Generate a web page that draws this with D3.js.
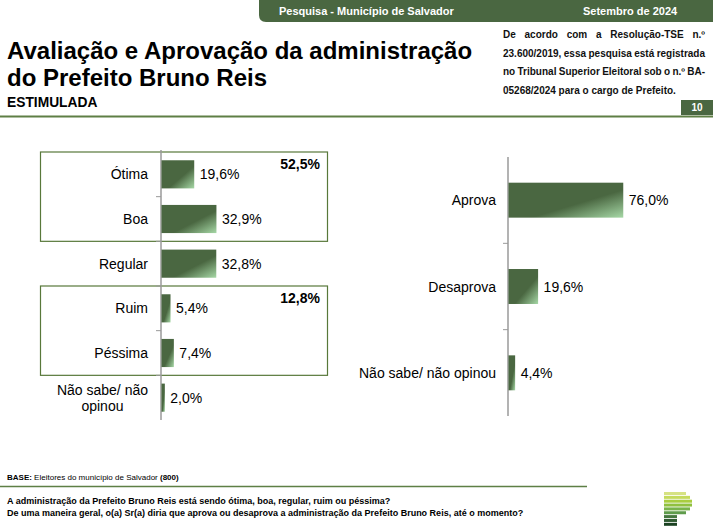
<!DOCTYPE html>
<html><head><meta charset="utf-8">
<script src="https://cdn.jsdelivr.net/npm/d3@7"></script>
<style>
html,body{margin:0;padding:0;background:#fff;}
svg{display:block;font-family:"Liberation Sans",Arial,sans-serif;}
</style></head>
<body>
<script>
// ---- data ----
const avalCategories = ["Ótima", "Boa", "Regular", "Ruim", "Péssima", "Não sabe/ não opinou"];
const avalValues = [19.6, 32.9, 32.8, 5.4, 7.4, 2.0];
const avalGroups = [{label: "52,5%", from: "Ótima", to: "Boa"}, {label: "12,8%", from: "Ruim", to: "Péssima"}];
const aprovCategories = ["Aprova", "Desaprova", "Não sabe/ não opinou"];
const aprovValues = [76.0, 19.6, 4.4];
const headerTexts = ["Pesquisa - Município de Salvador", "Setembro de 2024"];
const titleLines = ["Avaliação e Aprovação da administração", "do Prefeito Bruno Reis"];
const subtitle = "ESTIMULADA";
const noteLines = ["De acordo com a Resolução-TSE n.º", "23.600/2019, essa pesquisa está registrada", "no Tribunal Superior Eleitoral sob o n.º BA-", "05268/2024 para o cargo de Prefeito."];
const pageNumber = "10";
const questions = ["A administração da Prefeito Bruno Reis está sendo ótima, boa, regular, ruim ou péssima?",
  "De uma maneira geral, o(a) Sr(a) diria que aprova ou desaprova a administração da Prefeito Bruno Reis, até o momento?"];
const logoStripes = [22, 26, 28, 28, 26, 22, 13, 13, 13];
const logoColors = ["#d6e283", "#c5da5c", "#a9cd3f", "#90c03f", "#79b44a", "#5f9c4b", "#46773f", "#2f5a31", "#1b4222"];

const W = 713, H = 531;
const green = "#4a6741";
const svg = d3.select("body").append("svg").attr("width", W).attr("height", H);
const defs = svg.append("defs");
const grad = defs.append("linearGradient").attr("id", "barGrad")
  .attr("x1", 0).attr("y1", 0).attr("x2", 1).attr("y2", 1);
grad.append("stop").attr("offset", 0).attr("stop-color", green);
grad.append("stop").attr("offset", 0.6).attr("stop-color", green);
grad.append("stop").attr("offset", 1).attr("stop-color", "#a6d8a6");

// header band
const hx = 259, hh = 22, r = 7;
svg.append("path").attr("fill", green)
  .attr("d", `M${hx},0 H${W} V${hh} H${hx + r} Q${hx},${hh} ${hx},${hh - r} Z`);
svg.append("text").attr("x", 279).attr("y", 15).attr("fill", "#fff").attr("font-size", 11).attr("font-weight", "bold").text(headerTexts[0]);
svg.append("text").attr("x", 583).attr("y", 15).attr("fill", "#fff").attr("font-size", 11).attr("font-weight", "bold").text(headerTexts[1]);

// title
svg.selectAll("text.title").data(titleLines).join("text").attr("class", "title")
  .attr("x", 7).attr("y", (d, i) => 59 + i * 27).attr("font-size", 24).attr("font-weight", "bold").attr("fill", "#000").text(d => d);
svg.append("text").attr("x", 7).attr("y", 107).attr("font-size", 13.8).attr("font-weight", "bold").text(subtitle);

// justified note
const noteX0 = 503, noteX1 = 705;
noteLines.forEach((line, i) => {
  const t = svg.append("text").attr("x", noteX0).attr("y", 38 + i * 18.5)
    .attr("font-size", 10).attr("font-weight", "bold").attr("fill", "#111").text(line);
  if (i < noteLines.length - 1) {
    const w = t.node().getComputedTextLength();
    const n = (line.match(/ /g) || []).length;
    if (n > 0) t.attr("word-spacing", (noteX1 - noteX0 - w) / n);
  }
});

// page number + line
svg.append("rect").attr("x", 681).attr("y", 100).attr("width", W - 681).attr("height", 15).attr("fill", green);
svg.append("text").attr("x", 697).attr("y", 111).attr("text-anchor", "middle").attr("fill", "#fff").attr("font-size", 10).attr("font-weight", "bold").text(pageNumber);
svg.append("line").attr("x1", 0).attr("x2", W).attr("y1", 116.5).attr("y2", 116.5).attr("stroke", "#5e7f45").attr("stroke-width", 2);

// ---- left chart ----
const lx = d3.scaleLinear().domain([0, 100]).range([161, 161 + 167]);
const ly = d3.scaleBand().domain(avalCategories).range([152, 420]).paddingInner(0.37).paddingOuter(0.185);
const left = svg.append("g");
// group boxes
avalGroups.forEach(g => {
  const y0 = ly(g.from) - ly.step() * ly.paddingInner() / 2;
  const y1 = ly(g.to) + ly.bandwidth() + ly.step() * ly.paddingInner() / 2;
  left.append("rect").attr("x", 40.5).attr("y", y0).attr("width", 287).attr("height", y1 - y0)
    .attr("fill", "none").attr("stroke", "#58783a").attr("stroke-width", 1.2);
  left.append("text").attr("x", 320).attr("y", y0 + 17).attr("text-anchor", "end")
    .attr("font-size", 14).attr("font-weight", "bold").text(g.label);
});
// axis
const lAxisX = lx(0);
left.append("line").attr("x1", lAxisX).attr("x2", lAxisX).attr("y1", 150).attr("y2", 420).attr("stroke", "#9a9a9a").attr("stroke-width", 1.5);
d3.range(1, avalCategories.length).forEach(k => {
  const y = ly.range()[0] + k * ly.step();
  left.append("line").attr("x1", lAxisX - 5).attr("x2", lAxisX).attr("y1", y).attr("y2", y).attr("stroke", "#9a9a9a").attr("stroke-width", 1);
});
left.selectAll("rect.bar").data(avalValues).join("rect").attr("class", "bar")
  .attr("x", lx(0) + 0.5).attr("y", (d, i) => ly(avalCategories[i]))
  .attr("width", d => lx(d) - lx(0)).attr("height", ly.bandwidth()).attr("fill", "url(#barGrad)");
left.selectAll("text.val").data(avalValues).join("text").attr("class", "val")
  .attr("x", d => lx(d) + 6).attr("y", (d, i) => ly(avalCategories[i]) + ly.bandwidth() / 2 + 5)
  .attr("font-size", 14).text(d => d.toFixed(1).replace(".", ",") + "%");
avalCategories.forEach((c, i) => {
  const cy = ly(c) + ly.bandwidth() / 2;
  if (c.length > 14) {
    const lines = ["Não sabe/ não", "opinou"];
    const t = left.append("text").attr("font-size", 14).attr("text-anchor", "middle");
    const tmp = left.append("text").attr("font-size", 14).text(lines[0]);
    const w = tmp.node().getComputedTextLength(); tmp.remove();
    lines.forEach((ln, j) => t.append("tspan").attr("x", 148 - w / 2).attr("y", cy - 3 + j * 16).text(ln));
  } else {
    left.append("text").attr("x", 148).attr("y", cy + 5).attr("text-anchor", "end").attr("font-size", 14).text(c);
  }
});

// ---- right chart ----
const rx = d3.scaleLinear().domain([0, 100]).range([508, 508 + 151]);
const ry = d3.scaleBand().domain(aprovCategories).range([157, 416]).paddingInner(0.595).paddingOuter(0.2975);
const right = svg.append("g");
right.append("line").attr("x1", rx(0)).attr("x2", rx(0)).attr("y1", 157).attr("y2", 416).attr("stroke", "#9a9a9a").attr("stroke-width", 1.5);
d3.range(1, aprovCategories.length).forEach(k => {
  const y = ry.range()[0] + k * ry.step();
  right.append("line").attr("x1", rx(0) - 5).attr("x2", rx(0)).attr("y1", y).attr("y2", y).attr("stroke", "#9a9a9a").attr("stroke-width", 1);
});
right.selectAll("rect.bar").data(aprovValues).join("rect").attr("class", "bar")
  .attr("x", rx(0) + 0.5).attr("y", (d, i) => ry(aprovCategories[i]))
  .attr("width", d => rx(d) - rx(0)).attr("height", ry.bandwidth()).attr("fill", "url(#barGrad)");
right.selectAll("text.val").data(aprovValues).join("text").attr("class", "val")
  .attr("x", d => rx(d) + 6).attr("y", (d, i) => ry(aprovCategories[i]) + ry.bandwidth() / 2 + 5)
  .attr("font-size", 14).text(d => d.toFixed(1).replace(".", ",") + "%");
right.selectAll("text.cat").data(aprovCategories).join("text").attr("class", "cat")
  .attr("x", 496).attr("y", d => ry(d) + ry.bandwidth() / 2 + 5).attr("text-anchor", "end")
  .attr("font-size", 14).text(d => d);

// ---- footer ----
const base = svg.append("text").attr("x", 7).attr("y", 480).attr("font-size", 8);
base.append("tspan").attr("font-weight", "bold").text("BASE:");
base.append("tspan").text(" Eleitores do município de Salvador ");
base.append("tspan").attr("font-weight", "bold").text("(800)");
svg.append("line").attr("x1", 0).attr("x2", 587).attr("y1", 486.5).attr("y2", 486.5).attr("stroke", "#5e7f45").attr("stroke-width", 1.5);
svg.selectAll("text.q").data(questions).join("text").attr("class", "q")
  .attr("x", 7).attr("y", (d, i) => 504 + i * 12).attr("font-size", 9).attr("font-weight", "bold").text(d => d);

// logo
const logo = svg.append("g");
logo.selectAll("rect").data(logoStripes).join("rect")
  .attr("x", 664).attr("y", (d, i) => 492 + i * 3.85).attr("width", d => d).attr("height", 3)
  .attr("fill", (d, i) => logoColors[i]);
</script>
</body></html>
